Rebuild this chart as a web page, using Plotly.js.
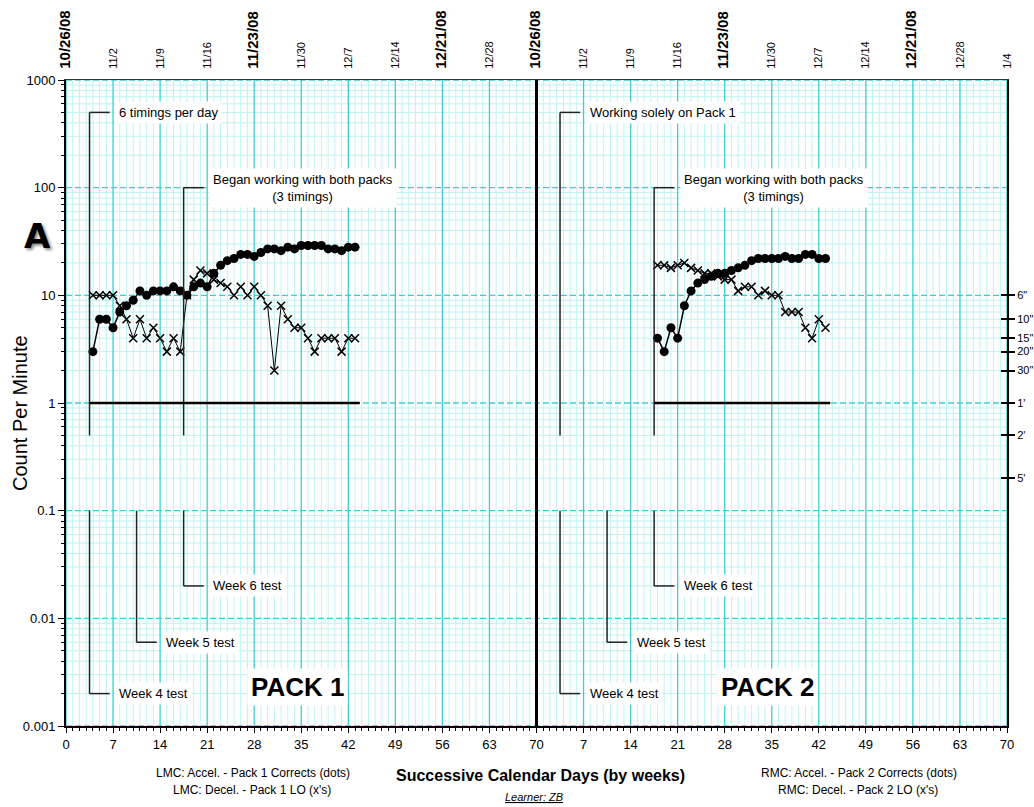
<!DOCTYPE html>
<html><head><meta charset="utf-8">
<script src="https://cdn.plot.ly/plotly-3.0.1.min.js"></script>
<style>html,body{margin:0;padding:0;background:#fff}#chart{width:1034px;height:807px}</style>
</head><body><div id="chart"></div>
<script>
// ---- data ----
const leftDays = [4,5,6,7,8,9,10,11,12,13,14,15,16,17,18,19,20,21,22,23,24,25,26,27,28,29,30,31,32,33,34,35,36,37,38,39,40,41,42,43];
const leftCorrects = [3,6,6,5,7,8,9,11,10,11, 11,11,12,11,10,12,13,12,16,19, 21,22,24,24,23,25,27,27,26,28, 27,29,29,29,29,27,27,26,28,28];
const leftLO = [10,10,10,10,8,6,4,6,4,5, 4,3,4,3,10,14,17,16,14,13, 12,10,12,10,12,10,8,2,8,6, 5,5,4,3,4,4,4,3,4,4];
const rightDays = [18,19,20,21,22,23,24,25,26,27,28,29,30,31,32,33,34,35,36,37,38,39,40,41,42,43];
const rightCorrects = [4,3,5,4,8,11,13,14,15,16, 16,17,18,19,21,22,22,22,22,23, 22,22,24,24,22,22];
const rightLO = [19,19,18,19,20,18,17,16,16,15, 14,14,11,12,12,10,11,10,10,7, 7,7,5,4,6,5];

const weekTicks = [0,7,14,21,28,35,42,49,56,63,70,77,84,91,98,105,112,119,126,133,140];
const bottomLabels = ['0','7','14','21','28','35','42','49','56','63','70','7','14','21','28','35','42','49','56','63','70'];
const topLabels = ['10/26/08','11/2','11/9','11/16','11/23/08','11/30','12/7','12/14','12/21/08','12/28',
                   '10/26/08','11/2','11/9','11/16','11/23/08','11/30','12/7','12/14','12/21/08','12/28','1/4'];
const topBold = [1,0,0,0,1,0,0,0,1,0, 1,0,0,0,1,0,0,0,1,0,0];
const decadeVals = [0.001,0.01,0.1,1,10,100,1000];
const decadeLabels = ['0.001','0.01','0.1','1','10','100','1000'];
const floorVals = [10,6,4,3,2,1,0.5,0.2];
const floorLabels = ['6"','10"','15"','20"','30"',"1'","2'","5'"];

const panelOffset = 70;
const teal = '#3ccfd0';
const light = '#bff2f2';
const FONT = 'Liberation Sans, Arial, Helvetica, sans-serif';

function dots(x, y){
  return {x:x, y:y, type:'scatter', mode:'lines+markers', xaxis:'x', yaxis:'y',
    marker:{symbol:'circle', size:9, color:'#000'}, line:{color:'#000', width:1.5},
    showlegend:false, hoverinfo:'x+y'};
}
function crosses(x, y){
  return {x:x, y:y, type:'scatter', mode:'lines+markers', xaxis:'x', yaxis:'y',
    marker:{symbol:'x-thin-open', size:8, color:'#000', line:{color:'#000', width:1.5}},
    line:{color:'#000', width:1}, showlegend:false, hoverinfo:'x+y'};
}
const rx = rightDays.map(d => d + panelOffset);
const traces = [
  dots(leftDays, leftCorrects),
  crosses(leftDays, leftLO),
  dots(rx, rightCorrects),
  crosses(rx, rightLO),
  {x:[], y:[], type:'scatter', xaxis:'x2', yaxis:'y', showlegend:false},
  {x:[], y:[], type:'scatter', xaxis:'x', yaxis:'y2', showlegend:false},
  {x:[], y:[], type:'scatter', xaxis:'x', yaxis:'y3', showlegend:false},
  {x:[], y:[], type:'scatter', xaxis:'x', yaxis:'y4', showlegend:false}
];

// ---- chart grid (drawn below the data) ----
const shapes = [];
const minorVals = [];
for (let k = -3; k <= 2; k++) for (let m = 2; m <= 9; m++) minorVals.push(m * Math.pow(10, k));
minorVals.forEach(v => shapes.push({type:'line', layer:'below', xref:'paper', yref:'y', x0:0, x1:1, y0:v, y1:v, line:{color:light, width:1}}));
for (let d = 0; d <= 140; d++) if (d % 7) shapes.push({type:'line', layer:'below', xref:'x', yref:'paper', x0:d, x1:d, y0:0, y1:1, line:{color:light, width:1}});
weekTicks.forEach(d => shapes.push({type:'line', layer:'below', xref:'x', yref:'paper', x0:d, x1:d, y0:0, y1:1, line:{color:teal, width:1.3}}));
decadeVals.forEach(v => shapes.push({type:'line', layer:'below', xref:'paper', yref:'y', x0:0, x1:1, y0:v, y1:v, line:{color:teal, width:1.3, dash:'6px,3px'}}));

// ---- leader lines etc. ----
function seg(x0,y0,x1,y1,w,c){ shapes.push({type:'line', xref:'x', yref:'y', x0:x0, y0:y0, x1:x1, y1:y1, line:{color:c||'#222', width:w||1.5}}); }
[0, panelOffset].forEach((o, i) => {
  seg(o+3.5, 0.5, o+3.5, 500); seg(o+3.5, 500, o+6.5, 500);
  seg(o+17.5, 0.5, o+17.5, 100); seg(o+17.5, 100, o+20.5, 100);
  seg(o+3.5, 0.1, o+3.5, 0.002); seg(o+3.5, 0.002, o+6.5, 0.002);
  seg(o+10.5, 0.1, o+10.5, 0.006); seg(o+10.5, 0.006, o+13.5, 0.006);
  seg(o+17.5, 0.1, o+17.5, 0.02); seg(o+17.5, 0.02, o+20.5, 0.02);
  seg(o + (i===0 ? 3.5 : 17.5), 1, o+43.7, 1, 2.5, '#000');
});
shapes.push({type:'line', xref:'x', yref:'paper', x0:70, x1:70, y0:0, y1:1, line:{color:'#000', width:3}});

// ---- annotations ----
const L = Math.log10;
const annotations = [];
function note(x, y, text, opts){
  annotations.push(Object.assign({x:x, y:L(y), xref:'x', yref:'y', text:text, showarrow:false,
    xanchor:'left', yanchor:'middle', bgcolor:'#fff', borderpad:3,
    font:{family:FONT, size:13, color:'#000'}}, opts||{}));
}
note(7.3, 500, '6 timings per day');
note(77.3, 500, 'Working solely on Pack 1');
note(21.3, 100, 'Began working with both packs<br>(3 timings)', {align:'center'});
note(91.3, 100, 'Began working with both packs<br>(3 timings)', {align:'center'});
[0, panelOffset].forEach(o => {
  note(o+7.3, 0.002, 'Week 4 test');
  note(o+14.3, 0.006, 'Week 5 test');
  note(o+21.3, 0.02, 'Week 6 test');
});
note(34.4, 0.0023, '<b>PACK 1</b>', {xanchor:'center', font:{family:FONT, size:26, color:'#000'}});
note(104.3, 0.0023, '<b>PACK 2</b>', {xanchor:'center', font:{family:FONT, size:26, color:'#000'}});

function px(xp){ return (xp - 66) / 941; }
function py(yp){ return (726 - yp) / 646; }
function paperNote(x, y, text, size, extra){
  annotations.push(Object.assign({xref:'paper', yref:'paper', x:px(x), y:py(y), text:text, showarrow:false,
    xanchor:'center', yanchor:'middle', font:{family:FONT, size:size, color:'#000'}}, extra||{}));
}
paperNote(253, 773, 'LMC: Accel. - Pack 1 Corrects (dots)', 12);
paperNote(252, 790, "LMC: Decel. - Pack 1 LO (x's)", 12);
paperNote(540, 775, '<b>Successive Calendar Days (by weeks)</b>', 16);
paperNote(859, 773, 'RMC: Accel. - Pack 2 Corrects (dots)', 12);
paperNote(858, 790, "RMC: Decel. - Pack 2 LO (x's)", 12);
paperNote(534, 797, '<i><u>Learner: ZB</u></i>', 11);
paperNote(20, 413, 'Count Per Minute', 20, {textangle:-90});
paperNote(37, 236, '<b>A</b>', 36, {font:{family:'DejaVu Sans, ' + FONT, size:34, color:'#000', shadow:'2px 2px 3px #888'}});

const topText = topLabels.map((t, i) => topBold[i] ? '<b><span style="font-size:15px">' + t + '</span></b>' : t);

const layout = {
  width:1034, height:807,
  margin:{l:66, r:27, t:80, b:81},
  paper_bgcolor:'#fff', plot_bgcolor:'#fff',
  font:{family:FONT, color:'#000'},
  showlegend:false,
  xaxis:{range:[0,140], tickmode:'array', tickvals:weekTicks, ticktext:bottomLabels,
    showgrid:false, zeroline:false,
    showline:true, linecolor:'#000', linewidth:2, ticks:'outside', ticklen:5, tickcolor:'#000',
    tickfont:{size:13}, fixedrange:true,
    minor:{tick0:0, dtick:1, showgrid:false, ticks:'outside', ticklen:3, tickcolor:'#000'}},
  xaxis2:{range:[0,140], overlaying:'x', side:'top', anchor:'y', tickmode:'array', tickvals:weekTicks, ticktext:topText,
    tickangle:-90, showgrid:false, zeroline:false, showline:true, linecolor:'#333', linewidth:1, ticks:'',
    ticklabelstandoff:8, tickfont:{size:11}, fixedrange:true},
  yaxis:{type:'log', range:[-3,3], tickmode:'array', tickvals:decadeVals, ticktext:decadeLabels,
    showgrid:false, zeroline:false,
    showline:true, linecolor:'#000', linewidth:2, ticks:'outside', ticklen:6, tickcolor:'#000',
    tickfont:{size:13}, fixedrange:true},
  yaxis4:{type:'log', range:[-3,3], overlaying:'y', side:'left', anchor:'x', tickmode:'array',
    tickvals:minorVals, showticklabels:false, showgrid:false, zeroline:false, showline:false,
    ticks:'outside', ticklen:4, tickcolor:'#000', fixedrange:true},
  yaxis2:{type:'log', range:[-3,3], overlaying:'y', side:'right', anchor:'x', tickmode:'array',
    tickvals:floorVals, ticktext:floorLabels, showgrid:false, zeroline:false,
    showline:true, linecolor:'#000', linewidth:2, ticks:'outside', ticklen:6, tickwidth:2, tickcolor:'#000',
    tickfont:{size:11}, fixedrange:true},
  yaxis3:{type:'log', range:[-3,3], overlaying:'y', side:'right', anchor:'x', tickmode:'array',
    tickvals:floorVals, showticklabels:false, showgrid:false, zeroline:false, showline:false,
    ticks:'inside', ticklen:6, tickwidth:2, tickcolor:'#000', fixedrange:true},
  shapes:shapes,
  annotations:annotations
};

Plotly.newPlot('chart', traces, layout, {displayModeBar:false, staticPlot:true});
</script>
</body></html>
